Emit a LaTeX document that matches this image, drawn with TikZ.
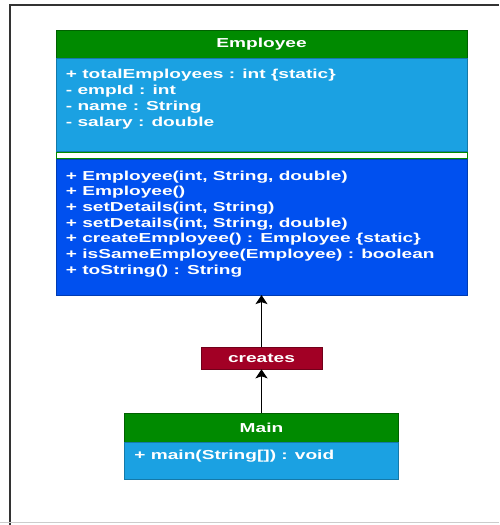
\documentclass[tikz,border=0pt]{standalone}
\usepackage{fontspec}
\usepackage{tikz}
\usetikzlibrary{calc,positioning,arrows.meta}
\newfontfamily\umlfont[FakeStretch=1.47]{Liberation Sans}
\definecolor{hdgreen}{HTML}{008A00}
\definecolor{attrblue}{HTML}{1BA1E2}
\definecolor{methblue}{HTML}{0050EF}
\definecolor{relred}{HTML}{A20025}
\tikzset{
  umltext/.style={font=\umlfont\bfseries\fontsize{13}{15.7}\selectfont, text=white},
  compartment/.style={draw, line width=0.6pt, inner sep=0pt},
  head/.style={compartment, umltext, fill=hdgreen, draw=hdgreen!70!black},
  attrs/.style={compartment, fill=attrblue, draw=attrblue!75!black},
  meths/.style={compartment, fill=methblue, draw=methblue!75!black},
  sepline/.style={compartment, fill=white, draw=hdgreen},
  members/.style={umltext, anchor=north west, align=left, inner sep=0pt},
  relation/.style={compartment, umltext, fill=relred, draw=relred!70!black},
  link/.style={line width=1.2pt, -{Stealth[width=12pt,length=9pt,inset=2pt]}}
}
\def\drawframe{\draw[color=black!80, line width=1.4pt]}
\def\headnode{\node[head]}

\begin{document}
\begin{tikzpicture}[x=1pt,y=-1pt]
\useasboundingbox (0,0) rectangle (499,525);

% Outer frame, runs off the right edge
\coordinate (frame_tr) at (499,5);
\coordinate (frame_tl) at (10,5);
\coordinate (frame_bl) at (10,525);
\drawframe (frame_tr) -- (frame_tl) -- (frame_bl);
\coordinate (base_l) at (0,522);
\coordinate (base_r) at (499,522);
\draw[color=black!20, line width=1pt] (base_l) -- (base_r);

% Employee class
\headnode[minimum width=411pt, minimum height=28pt] (emp) at (261.5,44) {Employee};
\node[attrs, minimum width=411pt, minimum height=93pt, below=0pt of emp] (empattr) {};
\node[sepline, minimum width=411pt, minimum height=6pt, below=0pt of empattr] (empsep) {};
\node[meths, minimum width=411pt, minimum height=136pt, below=0pt of empsep] (empmeth) {};
\node[members] (empattr_txt) at ($ (empattr.north west) + (10,11) $) {%
  + totalEmployees : int \{static\}\\
  - empId : int\\
  - name : String\\
  - salary : double};
\node[members] (empmeth_txt) at ($ (empmeth.north west) + (10,12) $) {%
  + Employee(int, String, double)\\
  + Employee()\\
  + setDetails(int, String)\\
  + setDetails(int, String, double)\\
  + createEmployee() : Employee \{static\}\\
  + isSameEmployee(Employee) : boolean\\
  + toString() : String};

% Relation label
\node[relation, minimum width=121pt, minimum height=22pt] (creates) at (261.5,358) {creates};

% Main class
\headnode[minimum width=274pt, minimum height=29pt] (main) at (261.5,427.5) {Main};
\node[attrs, minimum width=274pt, minimum height=37pt, below=0pt of main] (mainbody) {};
\node[members] (mainbody_txt) at ($ (mainbody.north west) + (10,8) $) {+ main(String[]) : void};

\draw[link] (creates.north) to (empmeth.south);
\draw[link] (main.north) to (creates.south);
\end{tikzpicture}
\end{document}
